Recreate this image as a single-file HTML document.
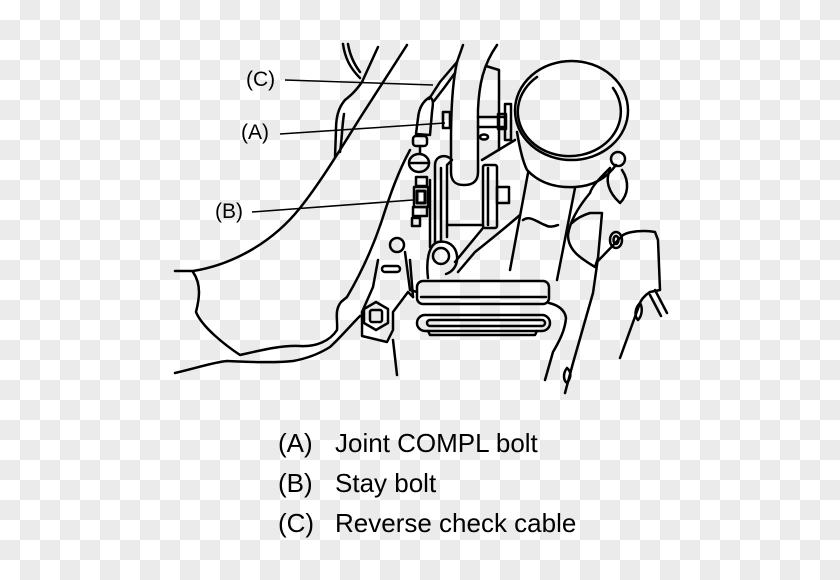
<!DOCTYPE html>
<html><head><meta charset="utf-8"><style>
html,body{margin:0;padding:0;}
#c{position:relative;width:840px;height:580px;overflow:hidden;
background:repeating-conic-gradient(#ebebeb 0 25%,#ffffff 0 50%) 0 0/40px 40px;}
svg{position:absolute;left:0;top:0;}
text{font-family:"Liberation Sans",Arial,sans-serif;fill:#000;}
</style></head><body><div id="c">
<svg width="840" height="580" viewBox="0 0 840 580">
<g fill="none" stroke="#000" stroke-width="2.5" stroke-linecap="round" stroke-linejoin="round">
<!-- big body curve -->
<path d="M175,271 L193,271 C225,266 268,248 300,208 C320,183 340,150 360,118 L407,45"/>
<!-- body lower outline -->
<path d="M193,272 C202,285 199,300 196,312 C202,327 225,345 240,355 C262,350 282,345 300,346 C316,347 330,341 337,330 C338,320 334,311 341,302 L347,297 C360,275 372,250 382,220 C390,195 398,172 410,150"/>
<!-- lower left line -->
<path d="M175,373 C200,367 215,362 227,361 C250,362 275,363 293,361 C310,358 322,352 330,347 C340,338 350,326 360,316"/>
<!-- top-left double arcs -->
<path d="M343,44 C345,58 350,68 360,78"/>
<path d="M348,44 C350,56 354,64 360,72"/>
<path d="M378,47 L362,82 C355,92 350,96 345,100 C338,108 336,118 336,130 L335,157"/>
<path d="M344,114 C342,126 342,140 340,152"/>
<!-- pipe -->
<path d="M463,45 L457,62 C453,80 451,110 451,140 L451,172 C451,182 456,185 464,185 C472,185 478,182 478,172 L478,110 C479,85 483,65 497,45"/>
<path d="M486,66 L499,70 L499,150"/>
<!-- cable -->
<path d="M457,62 L440,82 L429,99"/>
<path d="M455,73 L444,88 L434,101"/>
<!-- cable fitting -->
<path d="M430,97 C423,101 419,108 418,118 L416,134 L430,135 L432,112 C433,104 434,100 430,97"/>
<rect x="413" y="136" width="14" height="10" rx="3"/>
<line x1="420" y1="146" x2="420" y2="153"/>
<ellipse cx="419" cy="163" rx="10" ry="9"/>
<line x1="410" y1="163" x2="429" y2="163"/>
<!-- stay bolt assembly -->
<rect x="416" y="177" width="11" height="9"/>
<rect x="414" y="187" width="14" height="20"/>
<rect x="417" y="191" width="8" height="12" stroke-width="3"/>
<rect x="413" y="207" width="14" height="9"/>
<rect x="412" y="218" width="8" height="8"/>
<!-- bracket plate -->
<path d="M430,180 L430,247"/>
<path d="M435,243 L435,165 C435,156 446,153 452,160 L447,165 L447,237"/>
<path d="M441,168 L441,240"/>
<!-- block -->
<path d="M447,225 L483,225"/>
<rect x="483" y="165" width="14" height="63" rx="2"/>
<line x1="488" y1="168" x2="488" y2="225"/>
<rect x="497" y="187" width="12" height="16"/>
<path d="M478,117 L505,117 M478,127 L505,127"/>
<ellipse cx="484" cy="137" rx="4" ry="2.5"/>
<!-- bracket near cylinder -->
<rect x="505" y="104" width="6" height="36"/>
<rect x="498" y="114" width="8" height="15"/>
<!-- bolt A head -->
<rect x="443" y="112" width="7" height="16" stroke-width="2.6"/>
<!-- cylinder -->
<ellipse cx="571.5" cy="110.5" rx="56.5" ry="49.5"/>
<path d="M537,77 A51.5,44.5 0 1 0 613,88"/>
<path d="M517,132 C520,150 523,162 527,170 C540,184 558,188 575,187 C595,186 608,176 616,165"/>
<circle cx="618" cy="159" r="7"/>
<!-- legs -->
<path d="M528,173 L510,270"/>
<path d="M575,188 L557,280"/>
<path d="M523,220 C530,215 537,222 545,225 C550,228 555,226 558,225"/>
<!-- diagonals to pan -->
<path d="M515,140 L482,160"/>
<path d="M483,228 L455,262"/>
<path d="M520,215 C505,228 490,240 475,252 L458,272"/>
<!-- round bolt -->
<circle cx="441" cy="256" r="8"/>
<path d="M428,278 C426,262 428,245 438,242 C448,240 456,246 457,256 C458,266 452,272 446,274"/>
<!-- pan bars -->
<rect x="417" y="281" width="132" height="23" rx="6"/>
<line x1="421" y1="297" x2="546" y2="297"/>
<rect x="417" y="315" width="133" height="16" rx="8"/>
<rect x="427" y="320" width="118" height="6" rx="3"/>
<path d="M428,331 L430,335 L535,335 L537,331"/>
<!-- left plate with hex bolt -->
<polygon points="376,302 388,309 388,323 376,330 364,323 364,309"/>
<rect x="370" y="310" width="12" height="12" rx="2"/>
<path d="M378,260 L373,287 L362,312 L362,336 L387,342 L393,330 L393,312 L408,292 L413,297"/>
<circle cx="397" cy="245" r="7"/>
<rect x="382" y="266" width="18" height="6" rx="3"/>
<path d="M405,252 L410,290 L417,292"/>
<path d="M393,340 L397,375"/>
<path d="M410,260 L413,297"/>
<!-- right side -->
<path d="M610,170 C605,180 608,192 620,203 C628,195 630,182 622,170"/>
<path d="M610,168 C600,178 592,186 590,193 C580,205 570,220 568,235 C568,250 580,258 595,267 L598,258 L602,213 L590,213 C580,216 575,220 572,223"/>
<ellipse cx="616" cy="240" rx="6" ry="8"/>
<ellipse cx="616" cy="240" rx="2.5" ry="4"/>
<path d="M597,262 L623,235 C630,231 645,230 655,232 L658,240 L660,290 L650,292 C645,295 641,300 640,303 L620,358"/>
<path d="M655,290 L667,313"/>
<path d="M650,295 L661,316"/>
<path d="M640,303 C635,308 634,316 638,320 C642,316 643,308 640,303"/>
<path d="M598,258 L593,293 L573,363 L565,393"/>
<path d="M567,368 C563,373 563,380 567,383 C571,378 572,372 567,368"/>
<path d="M549,303 C558,305 565,310 566,318 C565,330 560,340 553,352 L545,380"/>
</g>
<!-- leader lines -->
<g stroke="#000" stroke-width="1.5" fill="none">
<line x1="285" y1="80" x2="433" y2="85"/>
<line x1="280" y1="134" x2="445" y2="123"/>
<line x1="252" y1="212" x2="413" y2="200"/>
</g>
<text x="246" y="86" font-size="21">(C)</text>
<text x="241" y="139" font-size="21">(A)</text>
<text x="215" y="218" font-size="21">(B)</text>
<g font-size="26">
<text x="278" y="452">(A)</text><text x="335" y="452">Joint COMPL bolt</text>
<text x="278" y="492">(B)</text><text x="335" y="492">Stay bolt</text>
<text x="278" y="532">(C)</text><text x="335" y="532">Reverse check cable</text>
</g>
</svg>
</div></body></html>
